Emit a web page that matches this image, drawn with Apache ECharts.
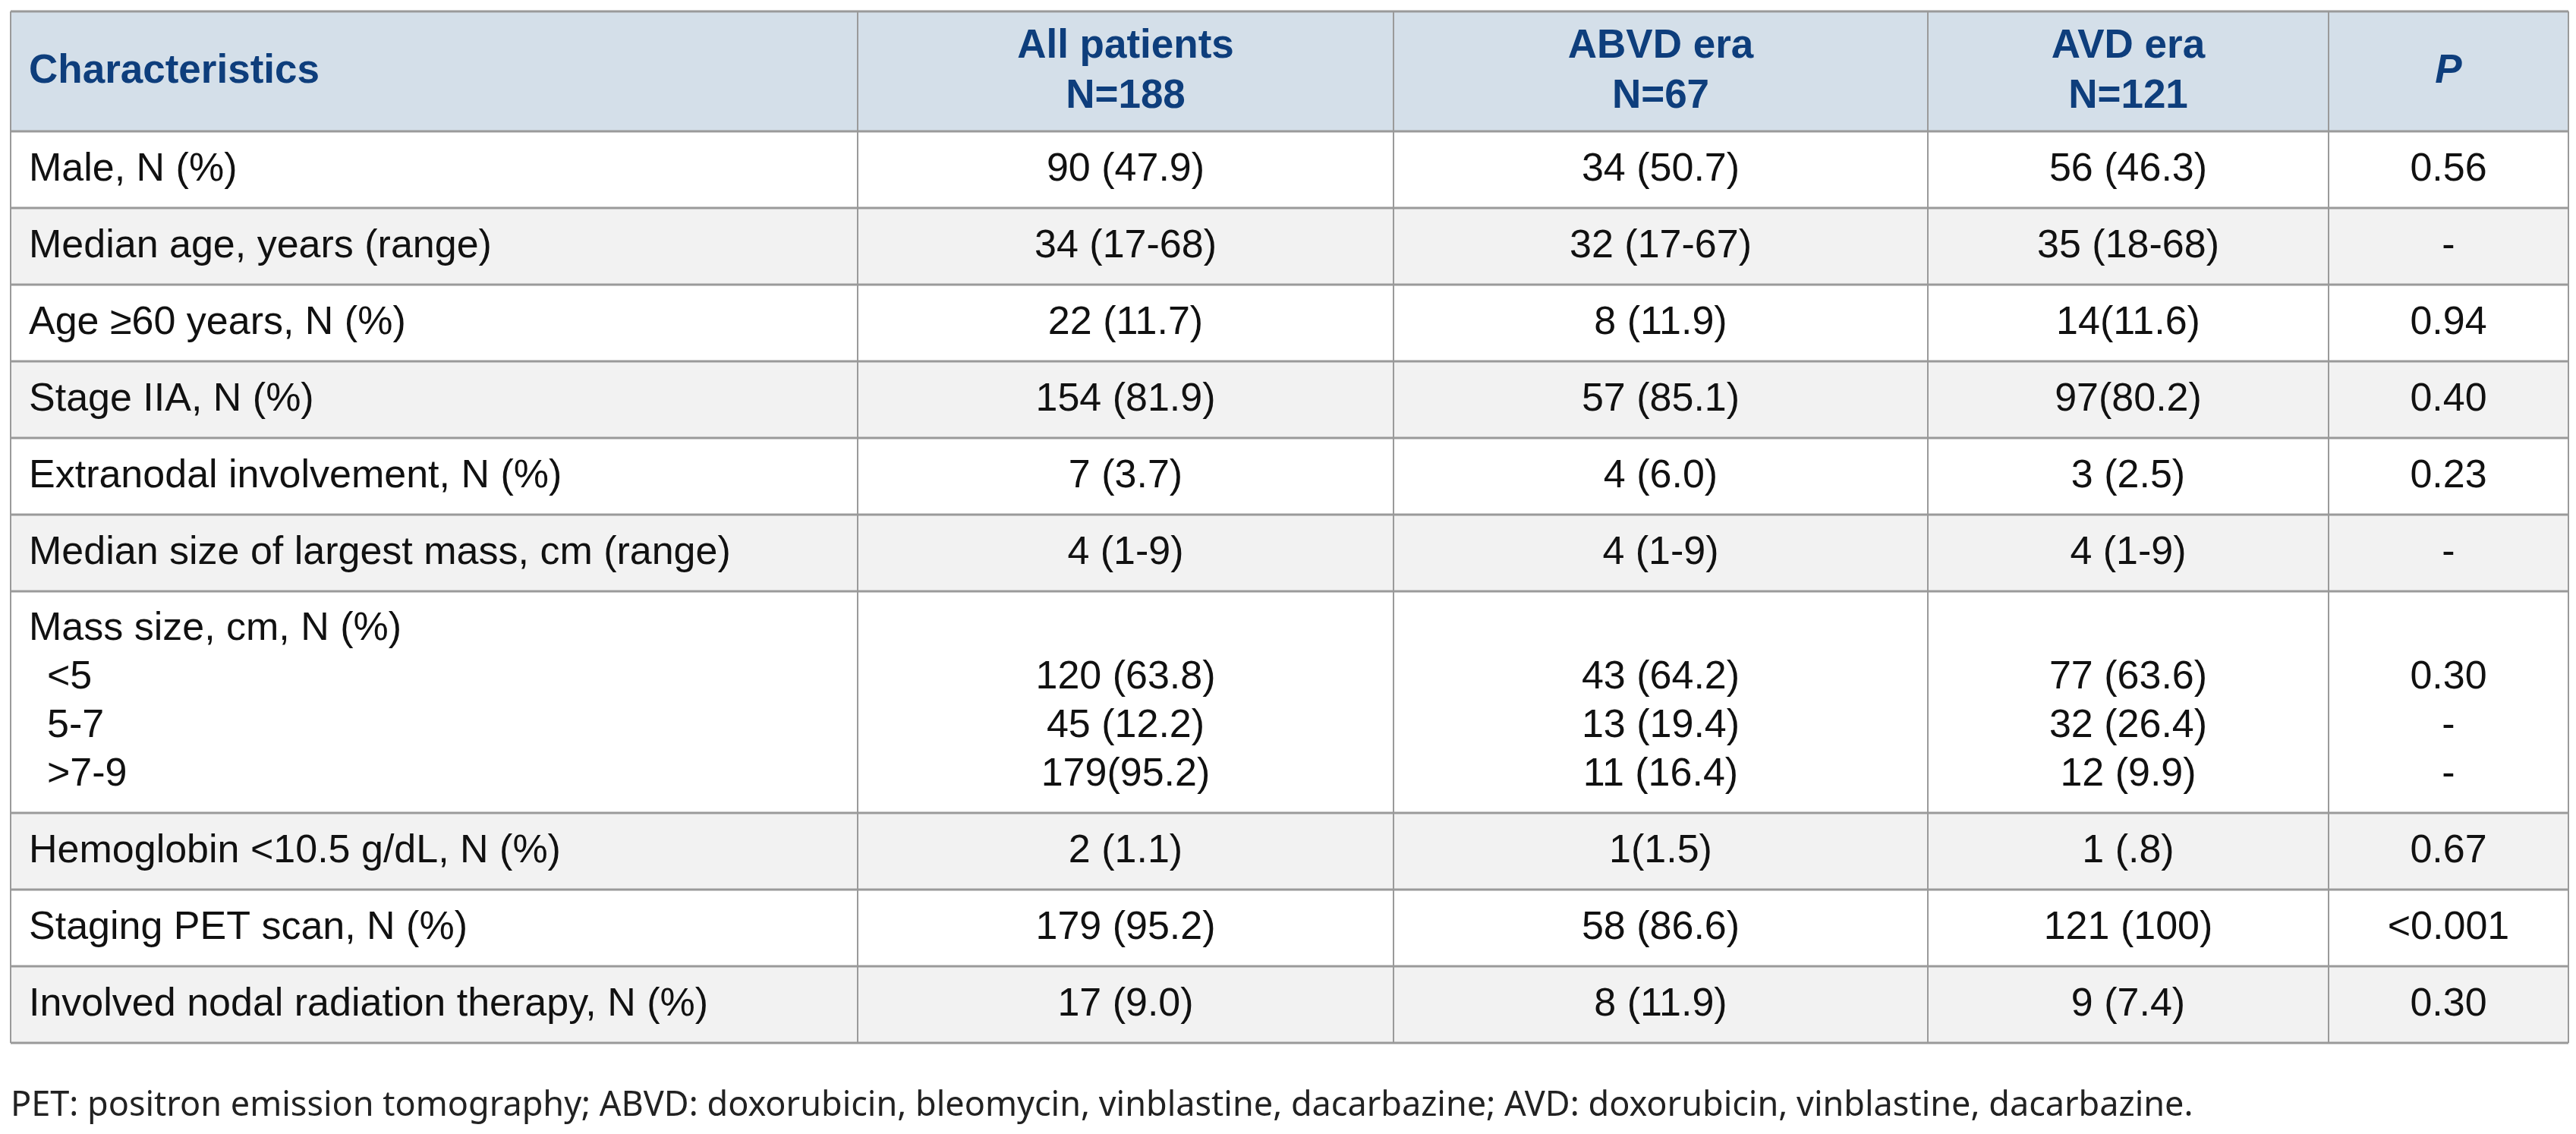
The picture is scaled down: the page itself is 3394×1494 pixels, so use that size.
<!DOCTYPE html>
<html>
<head>
<meta charset="utf-8">
<script src="https://cdn.jsdelivr.net/npm/echarts@6/dist/echarts.min.js"></script>
<style>html,body{margin:0;padding:0;background:#fff}#main{width:3394px;height:1494px}</style>
</head>
<body>
<div id="main"></div>
<script>
// Table content
const headers = [['Characteristics'], ['All patients', 'N=188'], ['ABVD era', 'N=67'], ['AVD era', 'N=121'], ['P']];
const labels = [
    ['Male, N (%)'],
    ['Median age, years (range)'],
    ['Age \u226560 years, N (%)'],
    ['Stage IIA, N (%)'],
    ['Extranodal involvement, N (%)'],
    ['Median size of largest mass, cm (range)'],
    ['Mass size, cm, N (%)', '<5', '5-7', '>7-9'],
    ['Hemoglobin <10.5 g/dL, N (%)'],
    ['Staging PET scan, N (%)'],
    ['Involved nodal radiation therapy, N (%)']
];
const allPatients = [['90 (47.9)'], ['34 (17-68)'], ['22 (11.7)'], ['154 (81.9)'], ['7 (3.7)'], ['4 (1-9)'], ['', '120 (63.8)', '45 (12.2)', '179(95.2)'], ['2 (1.1)'], ['179 (95.2)'], ['17 (9.0)']];
const abvdEra = [['34 (50.7)'], ['32 (17-67)'], ['8 (11.9)'], ['57 (85.1)'], ['4 (6.0)'], ['4 (1-9)'], ['', '43 (64.2)', '13 (19.4)', '11 (16.4)'], ['1(1.5)'], ['58 (86.6)'], ['8 (11.9)']];
const avdEra = [['56 (46.3)'], ['35 (18-68)'], ['14(11.6)'], ['97(80.2)'], ['3 (2.5)'], ['4 (1-9)'], ['', '77 (63.6)', '32 (26.4)', '12 (9.9)'], ['1 (.8)'], ['121 (100)'], ['9 (7.4)']];
const pValues = [['0.56'], ['-'], ['0.94'], ['0.40'], ['0.23'], ['-'], ['', '0.30', '-', '-'], ['0.67'], ['<0.001'], ['0.30']];
const footnote = 'PET: positron emission tomography; ABVD: doxorubicin, bleomycin, vinblastine, dacarbazine; AVD: doxorubicin, vinblastine, dacarbazine.';

const colX = [14, 1130, 1836, 2540, 3068, 3384];
const headTop = 15, headBottom = 173, rowH = 101, lineH = 64;
const font = '"Liberation Sans", Arial, sans-serif';
const headColor = '#0e3e7c';

const chart = echarts.init(document.getElementById('main'));
const g = [];

// header background
g.push({ type: 'rect', shape: { x: colX[0], y: headTop, width: colX[5] - colX[0], height: headBottom - headTop }, style: { fill: '#d4dfe9' } });

// rows
const rowTops = [];
let y = headBottom;
labels.forEach((lab, i) => {
    const h = lab.length > 1 ? lab.length * lineH + 36 : rowH;
    rowTops.push([y, h]);
    g.push({ type: 'rect', shape: { x: colX[0], y: y, width: colX[5] - colX[0], height: h }, style: { fill: i % 2 ? '#f2f2f2' : '#ffffff' } });
    y += h;
});
const tableBottom = y;

// header text
headers.forEach((lines, c) => {
    const cy = (headTop + headBottom) / 2;
    lines.forEach((t, k) => {
        g.push({
            type: 'text', z: 10,
            style: {
                text: t, x: c === 0 ? colX[0] + 24 : (colX[c] + colX[c + 1]) / 2,
                y: cy + (k - (lines.length - 1) / 2) * 66,
                align: c === 0 ? 'left' : 'center', verticalAlign: 'middle',
                fill: headColor, font: (c === 4 ? 'italic ' : '') + 'bold 53px ' + font
            }
        });
    });
});

// body text
const cols = [labels, allPatients, abvdEra, avdEra, pValues];
rowTops.forEach(([top, h], i) => {
    cols.forEach((col, c) => {
        const lines = col[i];
        lines.forEach((t, k) => {
            if (!t) return;
            const cy = lines.length > 1 ? top + 18 + lineH * (k + 0.5) : top + h / 2;
            g.push({
                type: 'text', z: 10,
                style: {
                    text: t,
                    x: c === 0 ? colX[0] + 24 + (k > 0 ? 24 : 0) : (colX[c] + colX[c + 1]) / 2,
                    y: cy, align: c === 0 ? 'left' : 'center', verticalAlign: 'middle',
                    fill: '#111', font: '52px ' + font
                }
            });
        });
    });
});

// grid lines
const lineStyle = { stroke: '#9a9a9a', lineWidth: 3 };
[headTop, headBottom].concat(rowTops.map(r => r[0] + r[1])).forEach(yy => {
    g.push({ type: 'line', z: 20, shape: { x1: colX[0], y1: yy, x2: colX[5], y2: yy }, style: lineStyle });
});
colX.forEach(xx => {
    g.push({ type: 'line', z: 20, shape: { x1: xx, y1: headTop, x2: xx, y2: tableBottom }, style: { stroke: '#9a9a9a', lineWidth: 2 } });
});

// footnote
g.push({ type: 'text', style: { text: footnote, x: colX[0], y: 1457, verticalAlign: 'middle', fill: '#222', font: '45px "Noto Sans", sans-serif' } });

chart.setOption({ animation: false, graphic: { elements: g } });
</script>
</body>
</html>
